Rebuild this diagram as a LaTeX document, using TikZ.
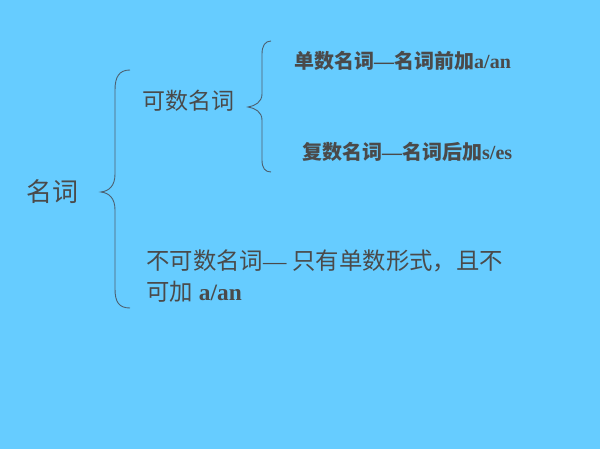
\documentclass[tikz,border=0pt]{standalone}
\usepackage{fontspec}
\setmainfont{Liberation Serif}
\newfontfamily\cjk{Noto Sans CJK SC}
\definecolor{bg}{HTML}{66CCFF}
\definecolor{txt}{HTML}{4A4A4A}
\definecolor{brc}{HTML}{4D6070}
\begin{document}
\begin{tikzpicture}[x=1pt,y=-1pt,
  lbl/.style={anchor=west,inner sep=0pt,text=txt},
  brace/.style={draw=brc,line width=0.9pt}]
\fill[bg] (0,0) rectangle (600,449);
\useasboundingbox (0,0) rectangle (600,449);
% texts
\node[lbl,font=\fontsize{26}{29}\selectfont] (root) at (26,192) {\cjk 名词};
\node[lbl,font=\fontsize{23}{26}\selectfont] (count) at (142,101) {\cjk 可数名词};
\node[lbl,font=\fontsize{20}{23}\selectfont\bfseries] (sing) at (294,61) {{\cjk 单数名词}—{\cjk 名词前加}a/an};
\node[lbl,font=\fontsize{20}{23}\selectfont\bfseries] (plur) at (302,152) {{\cjk 复数名词}—{\cjk 名词后加}s/es};
\node[lbl,font=\fontsize{23.4}{27}\selectfont] (unc1) at (146,261) {{\cjk 不可数名词}— {\cjk 只有单数形式，且不}};
\node[lbl,font=\fontsize{23.4}{27}\selectfont] (unc2) at (146,292) {{\cjk 可加} \textbf{a/an}};
% big brace
\draw[brace] (130,70) .. controls (119,70) and (115,77) .. (115,90) -- (115,174)
  .. controls (115,186) and (109,191) .. (101,192)
  .. controls (109,193) and (115,198) .. (115,210) -- (115,289)
  .. controls (115,302) and (119,308) .. (130,308);
% small brace
\draw[brace] (271,41) .. controls (265,41) and (262,46) .. (262,54) -- (262,94)
  .. controls (262,102) and (255,106) .. (248,107)
  .. controls (255,108) and (262,112) .. (262,120) -- (262,160)
  .. controls (262,168) and (265,172) .. (271,172);
\end{tikzpicture}
\end{document}
